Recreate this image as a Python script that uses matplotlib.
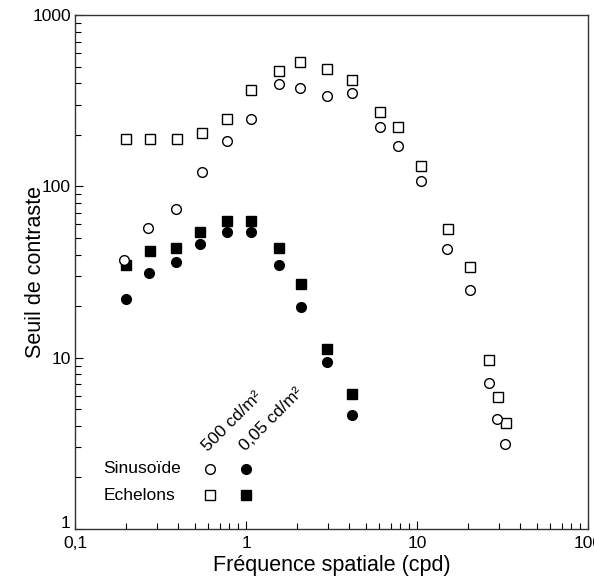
import matplotlib
matplotlib.use("Agg")
import matplotlib.pyplot as plt
import matplotlib.transforms as mtransforms
from matplotlib.ticker import LogLocator, FixedLocator, NullFormatter

plt.rcParams['font.family'] = ['Liberation Sans', 'DejaVu Sans']

# Sinusoide 500 cd/m2 (open circles)
sin_hi_f = [0.194, 0.268, 0.388, 0.551, 0.771, 1.065, 1.56, 2.08, 2.99, 4.15, 6.08, 7.71, 10.5, 15.0, 20.4, 26.5, 29.4, 32.5]
sin_hi_c = [37.1, 57.3, 73.7, 121, 184, 247, 396, 373, 338, 349, 221, 173, 107, 42.9, 24.7, 7.14, 4.36, 3.13]

# Echelons 500 cd/m2 (open squares)
ech_hi_f = [0.199, 0.275, 0.394, 0.551, 0.771, 1.065, 1.56, 2.07, 2.99, 4.15, 6.08, 7.71, 10.6, 15.2, 20.4, 26.4, 29.6, 33.0]
ech_hi_c = [189, 189, 189, 206, 247, 365, 473, 530, 484, 418, 270, 221, 132, 56.1, 33.9, 9.65, 5.91, 4.13]

# Sinusoide 0,05 cd/m2 (filled circles)
sin_lo_f = [0.198, 0.272, 0.39, 0.541, 0.778, 1.07, 1.55, 2.1, 2.97, 4.15]
sin_lo_c = [21.9, 31.3, 36.3, 45.9, 53.9, 53.9, 34.7, 19.7, 9.46, 4.62]

# Echelons 0,05 cd/m2 (filled squares)
ech_lo_f = [0.198, 0.274, 0.389, 0.538, 0.771, 1.065, 1.55, 2.09, 2.99, 4.15]
ech_lo_c = [34.7, 42.1, 43.8, 54.3, 63.0, 63.0, 43.8, 26.8, 11.2, 6.1]

x_ticks = [0.1, 1, 10, 100]
x_labels = ['0,1', '1', '10', '100']
y_ticks = [1, 10, 100, 1000]
y_labels = ['1', '10', '100', '1000']

fig = plt.figure(figsize=(5.94, 5.84), dpi=100)
ax = fig.add_axes([0.1263, 0.0942, 0.8636, 0.8801])

ms = 7
ax.plot(ech_lo_f, ech_lo_c, 's', color='black', ms=ms, mec='black')
ax.plot(sin_lo_f, sin_lo_c, 'o', color='black', ms=ms, mec='black')
ax.plot(ech_hi_f, ech_hi_c, 's', mfc='white', mec='black', ms=ms, mew=1)
ax.plot(sin_hi_f, sin_hi_c, 'o', mfc='white', mec='black', ms=ms, mew=1)

ax.set_xscale('log')
ax.set_yscale('log')
ax.set_xlim(0.1, 100)
ax.set_ylim(1, 1000)

ax.xaxis.set_major_locator(FixedLocator(x_ticks))
ax.set_xticklabels(x_labels)
ax.yaxis.set_major_locator(FixedLocator(y_ticks))
ax.set_yticklabels(y_labels)
ax.xaxis.set_minor_locator(LogLocator(base=10, subs=range(2, 10)))
ax.yaxis.set_minor_locator(LogLocator(base=10, subs=range(2, 10)))
ax.xaxis.set_minor_formatter(NullFormatter())
ax.yaxis.set_minor_formatter(NullFormatter())

ax.tick_params(which='both', direction='in', labelsize=12.5, width=0.8)
ax.tick_params(which='major', length=6)
ax.tick_params(which='minor', length=4.5)
ax.tick_params(axis='y', which='major', pad=3)
ax.tick_params(axis='x', which='major', pad=5)

# lift the bottom "1" label a little so it clears "0,1"
lbl = ax.get_yticklabels()[0]
lbl.set_transform(lbl.get_transform() + mtransforms.ScaledTranslation(0, 5 / 72, fig.dpi_scale_trans))

for s in ax.spines.values():
    s.set_linewidth(1.0)
    s.set_color('#333333')

ax.set_xlabel('Fréquence spatiale (cpd)', fontsize=15.5, labelpad=3)
ax.set_ylabel('Seuil de contraste', fontsize=15.5)
ax.yaxis.set_label_coords(-0.056, 0.5)

# legend drawn by hand
lx = [0.263, 0.333]
ly = [0.117, 0.066]
ax.text(0.055, ly[0], 'Sinusoïde', transform=ax.transAxes, fontsize=12.5, va='center')
ax.text(0.055, ly[1], 'Echelons', transform=ax.transAxes, fontsize=12.5, va='center')
ax.plot(lx[0], ly[0], 'o', mfc='white', mec='black', ms=ms, transform=ax.transAxes)
ax.plot(lx[1], ly[0], 'o', color='black', ms=ms, transform=ax.transAxes)
ax.plot(lx[0], ly[1], 's', mfc='white', mec='black', ms=ms, transform=ax.transAxes)
ax.plot(lx[1], ly[1], 's', color='black', ms=ms, transform=ax.transAxes)
ax.text(0.259, 0.150, '500 cd/m²', transform=ax.transAxes, fontsize=12.5,
        rotation=45, ha='left', va='baseline', rotation_mode='anchor')
ax.text(0.333, 0.150, '0,05 cd/m²', transform=ax.transAxes, fontsize=12.5,
        rotation=45, ha='left', va='baseline', rotation_mode='anchor')

fig.savefig('out.png', dpi=100)
